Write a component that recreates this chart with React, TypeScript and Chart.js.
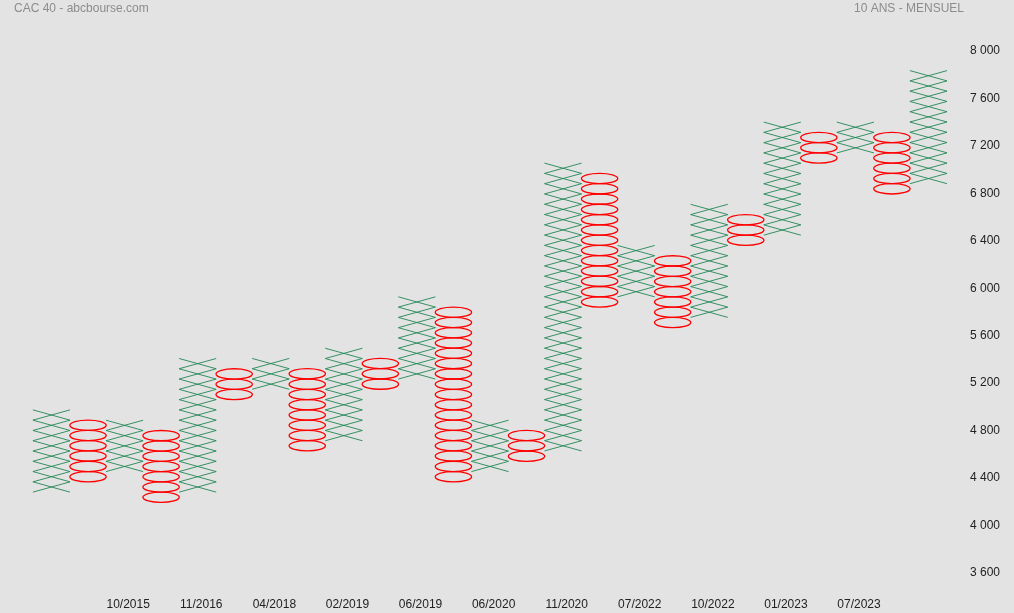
import React, { useEffect, useRef } from "react";
import { Chart, registerables } from "chart.js";

Chart.register(...registerables);

// Point & Figure columns (box centre prices, low and high of each column)
const BOX_SIZE = 86.65;
const columnTypes = ["X", "O", "X", "O", "X", "O", "X", "O", "X", "O", "X", "O", "X", "O", "X", "O", "X", "O", "X", "O", "X", "O", "X", "O", "X"];
const columnLow = [4325, 4412, 4498, 4238, 4325, 5105, 5192, 4672, 4758, 5192, 5278, 4412, 4498, 4585, 4672, 5885, 5971, 5711, 5798, 6405, 6491, 7098, 7184, 6838, 6925];
const columnHigh = [4932, 4845, 4845, 4758, 5365, 5278, 5365, 5278, 5451, 5365, 5885, 5798, 4845, 4758, 7011, 6925, 6318, 6231, 6665, 6578, 7358, 7271, 7358, 7271, 7791];

const tickColumns = [2, 4, 6, 8, 10, 12, 14, 16, 18, 20, 22];
const tickLabels = ["10/2015", "11/2016", "04/2018", "02/2019", "06/2019", "06/2020", "11/2020", "07/2022", "10/2022", "01/2023", "07/2023"];

const TITLE_LEFT = "CAC 40 - abcbourse.com";
const TITLE_RIGHT = "10 ANS - MENSUEL";

const BG = "#e3e3e3";
const FONT = '"Liberation Sans", Arial, Helvetica, sans-serif';

function buildPoints(type: string) {
  const pts: { x: number; y: number }[] = [];
  columnTypes.forEach((t, i) => {
    if (t !== type) return;
    const n = Math.round((columnHigh[i] - columnLow[i]) / BOX_SIZE) + 1;
    for (let k = 0; k < n; k++) pts.push({ x: i, y: columnLow[i] + k * BOX_SIZE });
  });
  return pts;
}

const bgPlugin = {
  id: "bg",
  beforeDraw(chart: any) {
    const ctx = chart.ctx;
    ctx.save();
    ctx.fillStyle = BG;
    ctx.fillRect(0, 0, chart.width, chart.height);
    ctx.restore();
  },
  afterDraw(chart: any) {
    const ctx = chart.ctx;
    ctx.save();
    ctx.font = "12px " + FONT;
    ctx.fillStyle = "#8c8c8c";
    ctx.textBaseline = "middle";
    ctx.textAlign = "left";
    ctx.fillText(TITLE_LEFT, 14, 9);
    ctx.textAlign = "right";
    ctx.fillText(TITLE_RIGHT, 964, 9);
    ctx.restore();
  },
};

const pnfPlugin = {
  id: "pnf",
  afterDatasetsDraw(chart: any) {
    const ctx = chart.ctx;
    const xs = chart.scales.x;
    const ys = chart.scales.y;
    const h = Math.abs(ys.getPixelForValue(BOX_SIZE) - ys.getPixelForValue(0));
    const w = Math.abs(xs.getPixelForValue(1) - xs.getPixelForValue(0)) + 0.6;
    chart.data.datasets.forEach((ds: any, di: number) => {
      const meta = chart.getDatasetMeta(di);
      meta.data.forEach((pt: any) => {
        const cx = pt.x;
        const cy = pt.y;
        ctx.save();
        if (ds.label === "X") {
          ctx.strokeStyle = "rgba(34,135,85,0.9)";
          ctx.lineWidth = 1;
          ctx.beginPath();
          ctx.moveTo(cx - w / 2, cy - h / 2);
          ctx.lineTo(cx + w / 2, cy + h / 2);
          ctx.moveTo(cx + w / 2, cy - h / 2);
          ctx.lineTo(cx - w / 2, cy + h / 2);
          ctx.stroke();
        } else {
          ctx.strokeStyle = "#ff0000";
          ctx.lineWidth = 1.3;
          ctx.beginPath();
          ctx.ellipse(cx, cy, w / 2 - 0.4, h / 2, 0, 0, Math.PI * 2);
          ctx.stroke();
        }
        ctx.restore();
      });
    });
  },
};

export default function App() {
  const ref = useRef<HTMLCanvasElement | null>(null);

  useEffect(() => {
    document.body.style.margin = "0";
    document.body.style.background = BG;
    const canvas = ref.current;
    if (!canvas) return;
    const chart = new Chart(canvas, {
      type: "scatter",
      data: {
        datasets: [
          { label: "X", data: buildPoints("X"), pointRadius: 0, pointHoverRadius: 0, showLine: false },
          { label: "O", data: buildPoints("O"), pointRadius: 0, pointHoverRadius: 0, showLine: false },
        ],
      },
      options: {
        responsive: false,
        animation: false,
        layout: { padding: { left: 33.2, top: 51, right: 0, bottom: 0 } },
        plugins: { legend: { display: false }, tooltip: { enabled: false }, title: { display: false } },
        scales: {
          x: {
            type: "linear",
            min: -0.5,
            max: 25,
            grid: { display: false, drawTicks: false },
            border: { display: false },
            afterBuildTicks: (scale: any) => {
              scale.ticks = tickColumns.map((c) => ({ value: c + 0.1 }));
            },
            afterFit: (scale: any) => {
              scale.height = 40;
            },
            ticks: {
              autoSkip: false,
              maxRotation: 0,
              padding: 24,
              color: "#222",
              font: { size: 12, family: FONT },
              callback: (v: any) => {
                const idx = tickColumns.indexOf(Math.round(Number(v) - 0.1));
                return idx >= 0 ? tickLabels[idx] : "";
              },
            },
          },
          y: {
            position: "right",
            min: 3600,
            max: 8000,
            grid: { display: false, drawTicks: false },
            border: { display: false },
            afterFit: (scale: any) => {
              scale.width = 49;
            },
            ticks: {
              stepSize: 400,
              padding: 5,
              color: "#222",
              font: { size: 12, family: FONT },
              callback: (v: any) => String(v).replace(/\B(?=(\d{3})+(?!\d))/g, " "),
            },
          },
        },
      },
      plugins: [bgPlugin, pnfPlugin],
    });
    return () => chart.destroy();
  }, []);

  return (
    <div style={{ width: 1014, height: 613, background: BG }}>
      <canvas ref={ref} width={1014} height={613} style={{ display: "block" }} />
    </div>
  );
}
